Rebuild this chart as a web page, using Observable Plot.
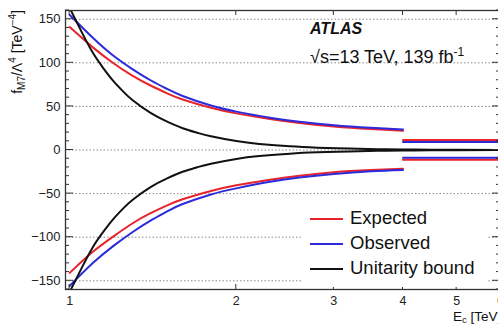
<!DOCTYPE html>
<html>
<head>
<meta charset="utf-8">
<script src="https://cdn.jsdelivr.net/npm/d3@7"></script>
<script src="https://cdn.jsdelivr.net/npm/@observablehq/plot@0.6"></script>
<style>
  html, body { margin: 0; padding: 0; background: white; overflow: hidden; width: 498px; height: 325px; }
  #chart { width: 498px; height: 325px; overflow: hidden; }
  #chart svg { max-width: none !important; }
</style>
</head>
<body>
<div id="chart"></div>
<script>
// ---- data ----
const E_curve   = [1.0, 1.1, 1.2, 1.3, 1.4, 1.5, 1.6, 1.8, 2.0, 2.3, 2.6, 3.0, 3.5, 4.0];
const expUpper  = [141, 118, 99.5, 85, 74, 65, 58, 48.5, 42, 35.5, 31, 27, 24, 22];
const obsUpper  = [155, 129, 108, 92.5, 80, 70, 62, 51, 44, 37, 32.5, 28.5, 25.5, 23.5];
const expLower  = [-141, -117, -99, -84, -72.5, -63.5, -56.5, -47, -40.5, -34, -29.5, -25.5, -23, -21.5];
const obsLower  = [-156, -130, -110, -94, -81, -70.5, -62, -51, -44, -36.5, -31.5, -27.5, -24.5, -23];

const E_high       = [4.0, 6.0];
const expUpperHigh = [11.5, 11.5];
const obsUpperHigh = [9.2, 9.2];
const obsLowerHigh = [-8.8, -8.8];
const expLowerHigh = [-11.1, -11.1];

const E_unit    = [1.0, 1.05, 1.1, 1.15, 1.2, 1.25, 1.3, 1.4, 1.5, 1.6, 1.7, 1.8, 2.0, 2.2, 2.5, 2.8, 3.2, 3.6, 4.0, 4.5, 5.0, 6.0];
const unitUpper = [163, 136, 112, 94, 79, 67, 57, 42.5, 32.5, 25, 19.8, 15.7, 10.2, 7, 4.2, 2.7, 1.6, 1.0, 0.65, 0.4, 0.26, 0.13];
const unitLower = unitUpper.map(v => -v);

const xTicks  = [1, 2, 3, 4, 5, 6];
const yMajor  = [-150, -100, -50, 0, 50, 100, 150];
const yMinor  = d3.range(-160, 161, 10);

const legendNames  = ["Expected", "Observed", "Unitarity bound"];
const legendColors = ["#e8232b", "#2b2bdc", "#111111"];
const RED = legendColors[0], BLUE = legendColors[1], BLACK = legendColors[2];

const rows = (xs, ys) => xs.map((x, i) => ({E: x, v: ys[i]}));

const lineOpts = (c) => ({x: "E", y: "v", stroke: c, strokeWidth: 2, curve: "natural", clip: true});

const chart = Plot.plot({
  width: 520,
  height: 325,
  marginLeft: 65,
  marginRight: 20,
  marginTop: 10,
  marginBottom: 36,
  x: {type: "log", domain: [0.983, 6]},
  y: {domain: [-160, 160]},
  style: {fontFamily: "'Liberation Sans', Arial, sans-serif", background: "white", color: "#222"},
  marks: [
    Plot.ruleY(yMajor, {stroke: "#8a8a8a", strokeDasharray: "1.5,2", strokeWidth: 1}),
    Plot.axisY(yMajor, {anchor: "left", tickSize: 0, tickPadding: 5, fontSize: 13, label: null}),
    Plot.axisX(xTicks, {anchor: "bottom", tickSize: 0, tickPadding: 7, fontSize: 12.5, label: null, tickFormat: d => String(d)}),
    Plot.line(rows(E_curve, expUpper), lineOpts(RED)),
    Plot.line(rows(E_curve, expLower), lineOpts(RED)),
    Plot.line(rows(E_high, expUpperHigh), lineOpts(RED)),
    Plot.line(rows(E_high, expLowerHigh), lineOpts(RED)),
    Plot.line(rows(E_curve, obsUpper), lineOpts(BLUE)),
    Plot.line(rows(E_curve, obsLower), lineOpts(BLUE)),
    Plot.line(rows(E_high, obsUpperHigh), lineOpts(BLUE)),
    Plot.line(rows(E_high, obsLowerHigh), lineOpts(BLUE)),
    Plot.line(rows(E_unit, unitUpper), lineOpts(BLACK)),
    Plot.line(rows(E_unit, unitLower), lineOpts(BLACK)),
    Plot.frame({stroke: "#333", strokeWidth: 1.3})
  ]
});

chart.style.maxWidth = "none";
chart.style.width = "520px";
chart.style.height = "325px";
document.getElementById("chart").appendChild(chart);

// ---- inward ROOT-style ticks, placed with the chart's own scales ----
const xs = chart.scale("x"), ys = chart.scale("y");
const [xl, xr] = xs.range;
const [yb, yt] = ys.range;
const svg = d3.select(chart);
const tg = svg.append("g").attr("stroke", "#333").attr("stroke-width", 1);
yMinor.forEach(v => {
  const py = ys.apply(v);
  const len = yMajor.includes(v) ? 8 : 4;
  tg.append("line").attr("x1", xl).attr("x2", xl + len).attr("y1", py).attr("y2", py);
  tg.append("line").attr("x1", xr).attr("x2", xr - len).attr("y1", py).attr("y2", py);
});
xTicks.forEach(v => {
  const px = xs.apply(v);
  tg.append("line").attr("x1", px).attr("x2", px).attr("y1", yb).attr("y2", yb - 5);
  tg.append("line").attr("x1", px).attr("x2", px).attr("y1", yt).attr("y2", yt + 5);
});

// ---- legend ----
const lg = svg.append("g").attr("text-anchor", "start");
lg.append("rect").attr("x", 303).attr("y", 200).attr("width", 184).attr("height", 87).attr("fill", "white");
legendNames.forEach((name, i) => {
  lg.append("line").attr("x1", 310).attr("x2", 343)
    .attr("y1", 219 + 25 * i).attr("y2", 219 + 25 * i)
    .attr("stroke", legendColors[i]).attr("stroke-width", 2);
  lg.append("text").attr("x", 350).attr("y", 224 + 25 * i).attr("text-anchor", "start")
    .attr("font-size", 18.5).attr("fill", "#111").text(name);
});

// ---- annotations ----
svg.append("text").attr("x", 310).attr("y", 34).attr("text-anchor", "start")
  .attr("font-size", 16).attr("font-weight", "bold").attr("font-style", "italic")
  .attr("fill", "#111").text("ATLAS");
const ann = svg.append("text").attr("x", 310).attr("y", 63).attr("text-anchor", "start")
  .attr("font-size", 18).attr("fill", "#111");
ann.append("tspan").text("√s=13 TeV, 139 fb");
ann.append("tspan").attr("font-size", 12).attr("dy", -7).text("-1");

// ---- axis titles ----
const yl = svg.append("text").attr("transform", "translate(22,10) rotate(-90)")
  .attr("text-anchor", "end").attr("font-size", 14).attr("fill", "#111");
yl.append("tspan").text("f");
yl.append("tspan").attr("font-size", 10).attr("dy", 3).text("M7");
yl.append("tspan").attr("dy", -3).text("/Λ");
yl.append("tspan").attr("font-size", 10).attr("dy", -6).text("4");
yl.append("tspan").attr("dy", 6).text(" [TeV");
yl.append("tspan").attr("font-size", 10).attr("dy", -6).text("−4");
yl.append("tspan").attr("dy", 6).text("]");

const xlab = svg.append("text").attr("x", 453).attr("y", 321).attr("text-anchor", "start")
  .attr("font-size", 13.5).attr("fill", "#111");
xlab.append("tspan").text("E");
xlab.append("tspan").attr("font-size", 9.5).attr("dy", 2).text("c");
xlab.append("tspan").attr("dy", -2).text(" [TeV]");
</script>
</body>
</html>
